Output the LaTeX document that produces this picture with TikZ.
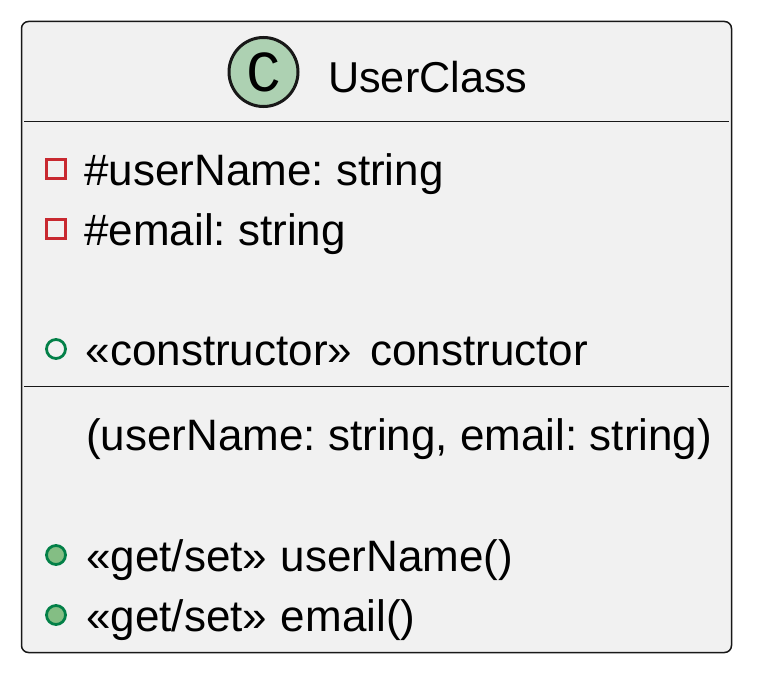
\documentclass[tikz,border=0pt]{standalone}
\usepackage{fontspec}
\setmainfont{Liberation Sans}
\newfontfamily\badgefont{Liberation Mono}
\definecolor{boxfill}{HTML}{F1F1F1}
\definecolor{boxline}{HTML}{181818}
\definecolor{badgefill}{HTML}{ADD1B2}
\definecolor{privline}{HTML}{C82930}
\definecolor{publine}{HTML}{038048}
\definecolor{pubfill}{HTML}{84BE84}
\tikzset{
  classbox/.style={draw=boxline, fill=boxfill, line width=1.5pt, rounded corners=7pt, minimum width=710pt, minimum height=631pt, inner sep=0pt},
  divider/.style={draw=boxline, line width=1.8pt},
  label/.style={anchor=base west, inner sep=0pt, font=\fontsize{44}{50}\selectfont\frenchspacing},
  titlelabel/.style={label, font=\fontsize{43.2}{50}\selectfont},
  badge/.style={circle, draw=boxline, fill=badgefill, line width=3pt, minimum size=69pt, inner sep=0pt},
  privicon/.style={draw=privline, line width=2.8pt, minimum size=19pt, inner sep=0pt},
  pubicon/.style={circle, draw=publine, line width=2.8pt, minimum size=19pt, inner sep=0pt}
}
\begin{document}
\begin{tikzpicture}[x=1pt, y=-1pt]
\useasboundingbox (0,0) rectangle (771,693);

% Class box
\node[classbox] (Box) at (376.5,337) {};

% Header
\node[badge] (Badge) at (263.5,72) {};
\node[inner sep=0pt, font=\badgefont\fontsize{58}{58}\selectfont] (BadgeC) at (263.5,72) {C};
\node[titlelabel] (Title) at (328,92.5) {UserClass};

% Dividers
\coordinate (D1a) at (24,121.5);
\coordinate (D1b) at (729,121.5);
\coordinate (D2a) at (24,386.5);
\coordinate (D2b) at (729,386.5);
\draw[divider] (D1a) -- (D1b);
\draw[divider] (D2a) -- (D2b);

% Fields
\node[privicon] (P1) at (56,169) {};
\node[privicon] (P2) at (56,229) {};
\node[label] (F1) at (84,185) {\#userName: string};
\node[label] (F2) at (84,245) {\#email: string};
\node[pubicon] (C1) at (56,349) {};
\node[label] (F3) at (85.5,365) {«constructor»\kern6pt{} constructor};

% Methods
\node[label] (M1) at (86,450) {(userName: string, email: string)};
\node[pubicon, fill=pubfill] (G1) at (56,555) {};
\node[pubicon, fill=pubfill] (G2) at (56,615) {};
\node[label] (M2) at (86,571) {«get/set»\kern1.5pt{} userName()};
\node[label] (M3) at (86,631) {«get/set»\kern1.5pt{} email()};

\end{tikzpicture}
\end{document}
